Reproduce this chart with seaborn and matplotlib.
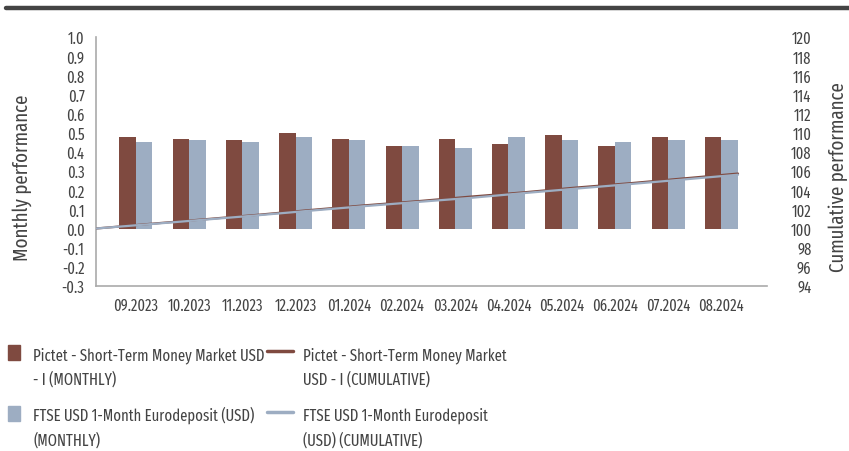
import numpy as np
import pandas as pd
import seaborn as sns
import matplotlib.pyplot as plt
from matplotlib.lines import Line2D
from matplotlib.patches import Rectangle

months = ['09.2023', '10.2023', '11.2023', '12.2023', '01.2024', '02.2024',
          '03.2024', '04.2024', '05.2024', '06.2024', '07.2024', '08.2024']
fund_monthly = [0.48, 0.47, 0.46, 0.50, 0.47, 0.43, 0.47, 0.44, 0.49, 0.43, 0.48, 0.48]
bench_monthly = [0.45, 0.46, 0.45, 0.48, 0.46, 0.43, 0.42, 0.48, 0.46, 0.45, 0.46, 0.46]
fund_cumul = [100.0, 100.48, 100.95, 101.42, 101.93, 102.41, 102.85,
              103.33, 103.78, 104.29, 104.74, 105.24, 105.74]
bench_cumul = [100.0, 100.45, 100.91, 101.37, 101.86, 102.33, 102.77,
               103.20, 103.70, 104.18, 104.65, 105.13, 105.62]

fund_name = 'Pictet - Short-Term Money Market USD'
bench_name = 'FTSE USD 1-Month Eurodeposit (USD)'

brown = '#7f4a40'
blue = '#9dadc2'
grey_txt = '#444444'

sns.set_style('white')
plt.rcParams['font.family'] = ['Fira Sans Extra Condensed', 'Fira Sans Condensed',
                               'IBM Plex Sans Condensed', 'DejaVu Sans']

W, H = 849, 452
fig = plt.figure(figsize=(W / 100, H / 100), dpi=100)
renderer = fig.canvas.get_renderer()


def fit_size(s, target_px, base=20):
    # pick a font size so that the string is about target_px wide
    t = fig.text(0, 0, s, fontsize=base)
    w = t.get_window_extent(renderer=renderer).width
    t.remove()
    return base * target_px / w


ax = fig.add_axes([95.7 / W, 1 - 287 / H, (767 - 95.7) / W, (287 - 38) / H])

df = pd.DataFrame({
    'month': months * 2,
    'value': fund_monthly + bench_monthly,
    'series': [fund_name] * 12 + [bench_name] * 12,
})
sns.barplot(data=df, x='month', y='value', hue='series', palette=[brown, blue],
            width=0.62, gap=0, saturation=1, linewidth=0, legend=False, ax=ax)

ax2 = ax.twinx()
# cumulative line: one extra starting point before the first month
line_x = np.arange(13) * 1.006 - 0.757
sns.lineplot(x=line_x, y=fund_cumul, color=brown, linewidth=1.6, ax=ax2)
sns.lineplot(x=line_x, y=bench_cumul, color=blue, linewidth=1.6, ax=ax2)

ax.set_xlim(-0.757, 11.86)
ax.set_ylim(-0.3, 1.0)
yt = np.arange(-0.3, 1.01, 0.1)
ax.set_yticks(yt)
ax.set_yticklabels([f'{v:.1f}' for v in yt])
ax2.set_ylim(94, 120)
ax2.set_yticks(np.arange(94, 121, 2))

xt_size = fit_size('09.2023', 45)
yt_size = fit_size('-0.3', 23)
lab_size = fit_size('Monthly performance', 167)

ax.set_xlabel('')
ax.set_ylabel('Monthly performance', fontsize=lab_size, color=grey_txt)
ax.yaxis.set_label_coords(-0.095, 0.44)
ax2.set_ylabel('Cumulative performance', fontsize=lab_size, color=grey_txt)
ax2.yaxis.set_label_coords(1.092, 0.44)

for a in (ax, ax2):
    a.tick_params(length=0, labelsize=yt_size, colors=grey_txt)
    for s in a.spines.values():
        s.set_visible(False)
ax.tick_params(axis='x', pad=8, labelsize=xt_size)
ax.tick_params(axis='y', pad=8)
ax2.tick_params(axis='y', pad=32)
for t in ax2.get_yticklabels():
    t.set_horizontalalignment('right')
for side in ('left', 'bottom'):
    ax.spines[side].set_visible(True)
    ax.spines[side].set_color('#aaaaaa')
    ax.spines[side].set_linewidth(1.2)

# dark rule at the top of the figure
fig.add_artist(Line2D([6 / W, 1.0], [1 - 9 / H, 1 - 9 / H], color='#444444',
                      linewidth=3.2, transform=fig.transFigure))

# legend, laid out like the original: handle next to the first text line
leg_size = fit_size(fund_name, 232)
entries = [
    ('patch', brown, 8, 360, [fund_name, '- I (MONTHLY)']),
    ('patch', blue, 8, 421, [bench_name, '(MONTHLY)']),
    ('line', brown, 267, 360, ['Pictet - Short-Term Money Market', 'USD - I (CUMULATIVE)']),
    ('line', blue, 267, 421, ['FTSE USD 1-Month Eurodeposit', '(USD) (CUMULATIVE)']),
]
for kind, color, x0, base_y, text_lines in entries:
    if kind == 'patch':
        fig.add_artist(Rectangle((x0 / W, 1 - (base_y + 1) / H), 12 / W, 15 / H,
                                 color=color, transform=fig.transFigure))
        tx = 33
    else:
        fig.add_artist(Line2D([x0 / W, (x0 + 26) / W], [1 - (base_y - 8) / H] * 2,
                              color=color, linewidth=2.5, transform=fig.transFigure))
        tx = 303
    for i, s in enumerate(text_lines):
        fig.text(tx / W, 1 - (base_y + 25 * i) / H, s, fontsize=leg_size,
                 color=grey_txt, va='baseline', ha='left')

fig.savefig('out.png', dpi=100)
